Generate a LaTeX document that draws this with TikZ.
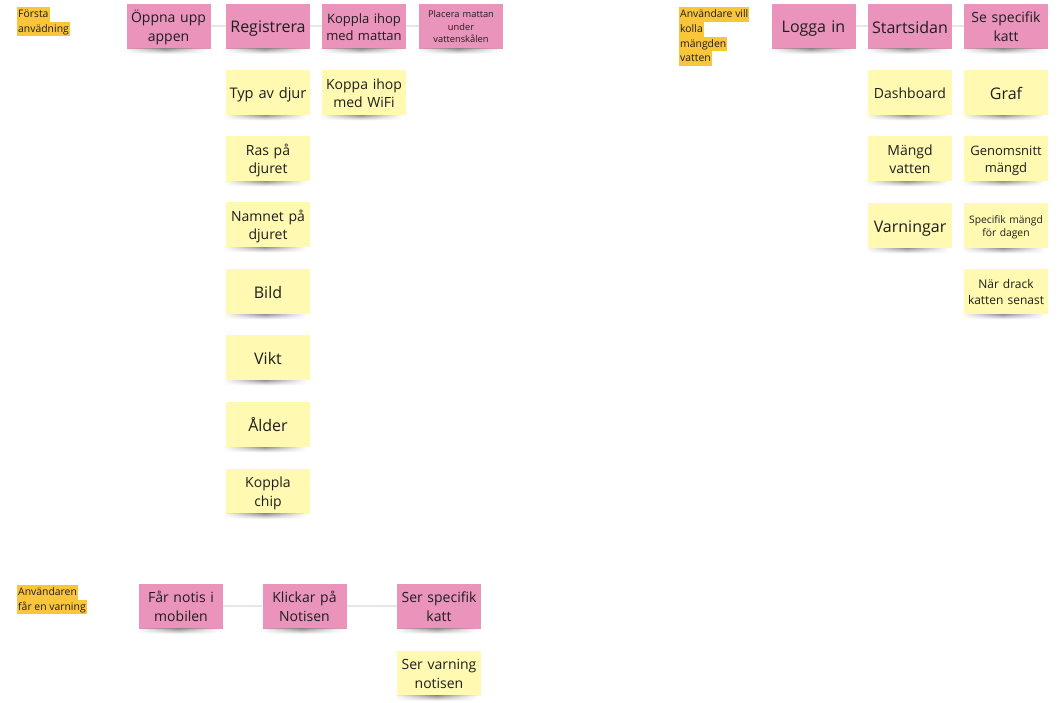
\documentclass[tikz,border=0pt]{standalone}
\usepackage{fontspec}
\setmainfont{Open Sans}
\usetikzlibrary{fadings}
\definecolor{pinkc}{HTML}{EA94BB}
\definecolor{yelc}{HTML}{FFF9B1}
\definecolor{tagc}{HTML}{F9C53A}
\definecolor{linkc}{HTML}{E6E6E6}
\definecolor{inkc}{HTML}{1E1E1E}
\newcommand\fsz[1]{\fontsize{#1pt}{1.32\dimexpr#1pt\relax}\selectfont}
\tikzfading[name=shfade, left color=transparent!100, right color=transparent!100, middle color=transparent!0]
\tikzset{
  note/.style={minimum width=84pt, minimum height=45pt, inner sep=1pt,
    align=center, text width=82pt, text=inkc,
    execute at begin node={\vrule width 0pt height 1.1em depth 0pt},
    execute at end node={\vrule width 0pt height 0pt depth 0.22em}},
  pnote/.style={note, fill=pinkc},
  ynote/.style={note, fill=yelc},
  tagline/.style={fill=tagc, anchor=north west, inner xsep=1pt, inner ysep=0pt,
    text height=10.3pt, text depth=4.3pt, text=inkc, font=\fontsize{10.4pt}{14.5pt}\selectfont},
  link/.style={draw=linkc, line width=1.3pt},
  shadowc/.style={top color=black!42, bottom color=white, draw=none},
  f16/.style={font=\fsz{16}},
  f15/.style={font=\fsz{14.6}},
  f14/.style={font=\fsz{14}},
  f13/.style={font=\fsz{13}},
  f12/.style={font=\fsz{12}},
  f10/.style={font=\fsz{10.3}},
  f9/.style={font=\fsz{9.3}},
}
\begin{document}
\begin{tikzpicture}[x=1pt, y=-1pt]
\fill[white] (0,0) rectangle (1060,702);
\useasboundingbox (0,0) rectangle (1060,702);

% --- Första användning ---
\node[tagline] (ta1) at (17,7) {Första};
\node[tagline] (ta2) at (17,21.5) {anvädning};

\node[pnote,f14] (oppna) at (168.5,26) {Öppna upp\\appen};
\node[pnote,f16] (reg) at (268,26) {Registrera};
\node[pnote,f13] (koppla) at (364,26) {Koppla ihop\\med mattan};
\node[pnote,f9] (placera) at (461,26) {Placera mattan\\under\\vattenskålen};

\node[ynote,f15] (typ) at (268,92.5) {Typ av djur};
\node[ynote,f14] (ras) at (268,158.5) {Ras på\\djuret};
\node[ynote,f14] (namn) at (268,224.5) {Namnet på\\djuret};
\node[ynote,f16] (bild) at (268,291.5) {Bild};
\node[ynote,f16] (vikt) at (268,357.5) {Vikt};
\node[ynote,f16] (alder) at (268,424.5) {Ålder};
\node[ynote,f14] (chip) at (268,491) {Koppla\\chip};
\node[ynote,f14] (wifi) at (364,92.5) {Koppa ihop\\med WiFi};

\draw[link] (oppna) -- (reg);
\draw[link] (reg) -- (koppla);
\draw[link] (koppla) -- (placera);

% --- Användare vill kolla mängden vatten ---
\node[tagline] (tb1) at (679,7) {Användare vill};
\node[tagline] (tb2) at (679,21.75) {kolla};
\node[tagline] (tb3) at (679,36.5) {mängden};
\node[tagline] (tb4) at (679,51.25) {vatten};

\node[pnote,f16] (logga) at (813.5,26) {Logga in};
\node[pnote,f16] (start) at (910,26) {Startsidan};
\node[pnote,f14] (katt) at (1006,26) {Se specifik\\katt};

\node[ynote,f14] (dash) at (910,92.5) {Dashboard};
\node[ynote,f16] (graf) at (1006,92.5) {Graf};
\node[ynote,f14] (mangd) at (910,158.5) {Mängd\\vatten};
\node[ynote,f13] (genom) at (1006,158.5) {Genomsnitt\\mängd};
\node[ynote,f16] (varn) at (910,225.5) {Varningar};
\node[ynote,f10] (spec) at (1006,225.5) {Specifik mängd\\för dagen};
\node[ynote,f12] (drack) at (1006,291.5) {När drack\\katten senast};

\draw[link] (logga) -- (start);
\draw[link] (start) -- (katt);

% --- Användaren får en varning ---
\node[tagline] (tc1) at (17,585) {Användaren };
\node[tagline] (tc2) at (17,599.5) {får en varning};

\node[pnote,f14] (notis) at (181,606) {Får notis i\\mobilen};
\node[pnote,f14] (klick) at (304.5,606) {Klickar på\\Notisen};
\node[pnote,f14] (katt2) at (439,606) {Ser specifik\\katt};
\node[ynote,f14] (varn2) at (439,673) {Ser varning\\notisen};

\draw[link] (notis) -- (klick);
\draw[link] (klick) -- (katt2);

% sticky-note shadows
\foreach \n in {oppna,reg,koppla,placera,typ,ras,namn,bild,vikt,alder,chip,wifi,
  logga,start,katt,dash,graf,mangd,genom,varn,spec,drack,notis,klick,katt2,varn2}
  \shade[shadowc, path fading=shfade] ([xshift=-2pt]\n.south west) rectangle ([xshift=-4pt,yshift=-5pt]\n.south east);
\end{tikzpicture}
\end{document}
